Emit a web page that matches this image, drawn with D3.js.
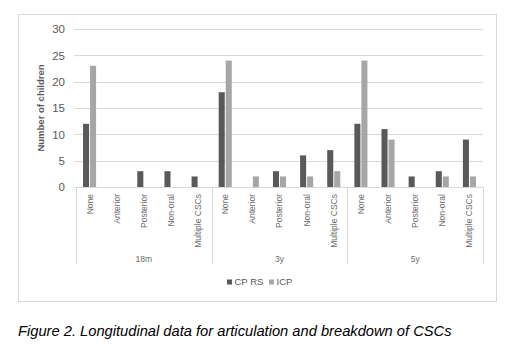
<!DOCTYPE html>
<html><head><meta charset="utf-8">
<script src="https://cdn.jsdelivr.net/npm/d3@7"></script>
<style>
body{margin:0;background:#fff;}
svg{display:block;}
</style></head>
<body>
<svg id="chart" width="527" height="359"></svg>
<script>
const groups = ["18m","3y","5y"];
const subcats = ["None","Anterior","Posterior","Non-oral","Multiple CSCs"];
const seriesNames = ["CPRS","ICP"];
const cprs = [12,0,3,3,2, 18,0,3,6,7, 12,11,2,3,9];
const icp  = [23,0,0,0,0, 24,2,2,2,3, 24,9,0,2,2];
const yTicks = [0,5,10,15,20,25,30];
const colors = ["#595959","#a6a6a6"];

const rows = [];
groups.forEach((g,gi)=>subcats.forEach((c,ci)=>{
  const i = gi*subcats.length+ci;
  rows.push({key:g+"|"+c, group:g, cat:c, CPRS:cprs[i], ICP:icp[i]});
}));

const svg = d3.select("#chart");
const font = "'Liberation Sans', Arial, sans-serif";

// outer border
svg.append("rect").attr("x",18.5).attr("y",14.5).attr("width",478).attr("height",287)
  .attr("fill","none").attr("stroke","#d9d9d9");

const pL=76, pR=483, pT=29, pB=187;
const x = d3.scaleBand().domain(rows.map(d=>d.key)).range([pL,pR]);
const y = d3.scaleLinear().domain([0,30]).range([pB,pT]);
const xs = d3.scaleBand().domain(seriesNames).range([0,x.bandwidth()]).paddingInner(0.14).paddingOuter(1);

// gridlines
svg.append("g").selectAll("line").data(yTicks).join("line")
  .attr("x1",pL-2).attr("x2",pR).attr("y1",d=>Math.round(y(d))+0.5).attr("y2",d=>Math.round(y(d))+0.5)
  .attr("stroke","#d9d9d9").attr("stroke-width",1);

// y axis labels
const yAxis = d3.axisLeft(y).tickValues(yTicks).tickSize(0).tickPadding(0);
const ya = svg.append("g").attr("transform",`translate(${pL-11},0)`).call(yAxis);
ya.select(".domain").remove();
ya.selectAll("text").attr("font-family",font).attr("font-size",11.5).attr("fill","#595959");

// bars
const g = svg.append("g");
g.selectAll("g").data(rows).join("g").attr("transform",d=>`translate(${x(d.key)},0)`)
  .selectAll("rect").data(d=>seriesNames.map((s,si)=>({s,si,v:d[s]}))).join("rect")
  .attr("x",d=>xs(d.s)).attr("width",xs.bandwidth())
  .attr("y",d=>y(d.v)).attr("height",d=>pB-y(d.v))
  .attr("fill",d=>colors[d.si]);

// category axis (bottom)
const xAxis = d3.axisBottom(x).tickSize(0).tickFormat(d=>d.split("|")[1]);
const xa = svg.append("g").attr("transform",`translate(0,${pB})`).call(xAxis);
xa.select(".domain").attr("stroke","#d9d9d9");
xa.selectAll("text").attr("font-family",font).attr("font-size",8.5).attr("fill","#6b6b6b")
  .attr("transform","rotate(-90)").attr("text-anchor","end").attr("dy","0.35em").attr("x",-7).attr("y",0);

// group separators
const sepX = [0,1,2,3].map(i=> i<3 ? x(groups[i]+"|"+subcats[0]) : pR);
svg.append("g").selectAll("line").data(sepX).join("line")
  .attr("x1",d=>Math.round(d)+0.5).attr("x2",d=>Math.round(d)+0.5).attr("y1",pB).attr("y2",264)
  .attr("stroke","#d9d9d9");

// group labels
svg.append("g").selectAll("text").data(groups).join("text")
  .attr("x",(d,i)=>(sepX[i]+sepX[i+1])/2).attr("y",262)
  .attr("text-anchor","middle").attr("font-family",font).attr("font-size",8.5).attr("fill","#6b6b6b")
  .text(d=>d);

// y axis title
svg.append("text").attr("transform","translate(44,108) rotate(-90)")
  .attr("text-anchor","middle").attr("font-family",font).attr("font-size",9.5).attr("font-weight","bold")
  .attr("fill","#595959").text("Number of children");

// legend
const legX = [227, 269];
const leg = svg.append("g").selectAll("g").data(seriesNames).join("g")
  .attr("transform",(d,i)=>`translate(${legX[i]},282)`);
leg.append("rect").attr("x",0).attr("y",-2.5).attr("width",5).attr("height",5).attr("fill",(d,i)=>colors[i]);
leg.append("text").attr("x",7.5).attr("y",0).attr("dy","0.35em").attr("font-family",font).attr("font-size",9.5)
  .attr("fill","#595959").text(d=>d==="CPRS"?"CP RS":d);

// caption
svg.append("text").attr("x",18).attr("y",336).attr("font-family",font).attr("font-size",14.7)
  .attr("font-style","italic").attr("fill","#000")
  .text("Figure 2. Longitudinal data for articulation and breakdown of CSCs");
</script>
</body></html>
